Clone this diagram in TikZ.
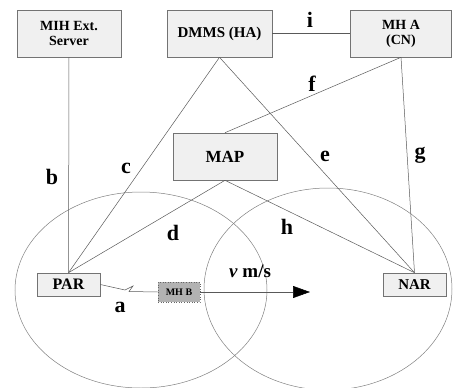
\documentclass[tikz,border=0pt]{standalone}
\usepackage{fontspec}
\setmainfont{Liberation Serif}
\usetikzlibrary{arrows.meta}
\begin{document}
\begin{tikzpicture}[x=1pt,y=-1pt,
  ent/.style={draw=black!55, fill=black!6, line width=0.6pt, inner sep=0pt, align=center, font=\bfseries},
  lnk/.style={draw=black!65, line width=0.5pt},
  lab/.style={font=\bfseries\fontsize{22}{22}\selectfont}]
\useasboundingbox (0,0) rectangle (453,388);
\clip (0,0) rectangle (453,388);
% cells
\draw[black!50, line width=0.5pt] (141,290) ellipse (126 and 98);
\draw[black!50, line width=0.5pt] (328,289) ellipse (124 and 101);
% entities
\node[ent, minimum width=104, minimum height=47, font=\bfseries\fontsize{14}{15}\selectfont] (mihs) at (69,33.5) {MIH Ext.\\Server};
\node[ent, minimum width=105, minimum height=47, font=\bfseries\fontsize{15}{16}\selectfont] (dmms) at (219.5,33.5) {DMMS (HA)};
\node[ent, minimum width=101, minimum height=47, font=\bfseries\fontsize{14}{15}\selectfont] (mha) at (401,33.5) {MH A\\(CN)};
\node[ent, minimum width=104, minimum height=47, font=\bfseries\fontsize{17}{17}\selectfont] (map) at (225,156.5) {MAP};
\node[ent, minimum width=63, minimum height=23, font=\bfseries\fontsize{16}{16}\selectfont] (par) at (68.5,284.5) {PAR};
\node[ent, minimum width=63, minimum height=23, font=\bfseries\fontsize{15}{15}\selectfont] (nar) at (414.5,284.5) {NAR};
\node[ent, draw=black!60, dotted, fill=black!30, minimum width=42, minimum height=20, font=\bfseries\fontsize{10}{10}\selectfont] (mhb) at (179,292) {MH B};
\coordinate (vend) at (310,292);
% links
\draw[lnk] (mihs.south) -- (par.north);
\draw[lnk] (dmms.south) -- (par.north);
\draw[lnk] (dmms.south) -- (nar.north);
\draw[lnk] (dmms.east) -- (mha.west);
\draw[lnk] (mha.south) -- (map.north);
\draw[lnk] (mha.south) -- (nar.north);
\draw[lnk] (map.south) -- (par.north);
\draw[lnk] (map.south) -- (nar.north);
\draw[lnk] (par.east) -- (125,290) -- (133,286) -- (129,291.5) -- (mhb.west);
\draw[lnk, -{Triangle[length=17,width=12,color=black]}] (mhb.east) -- (vend);
% labels
\node[lab] (la) at (120,307) {a};
\node[lab] (lb) at (52,177) {b};
\node[lab] (lc) at (126,168) {c};
\node[lab] (ld) at (173,233) {d};
\node[lab] (le) at (325,156) {e};
\node[lab] (lf) at (312,84) {f};
\node[lab] (lg) at (420,155) {g};
\node[lab] (lh) at (287,227) {h};
\node[lab] (li) at (310,20) {i};
\node[font=\bfseries\fontsize{19}{19}\selectfont] (lv) at (250,271) {\textit{v} m/s};
\end{tikzpicture}
\end{document}
